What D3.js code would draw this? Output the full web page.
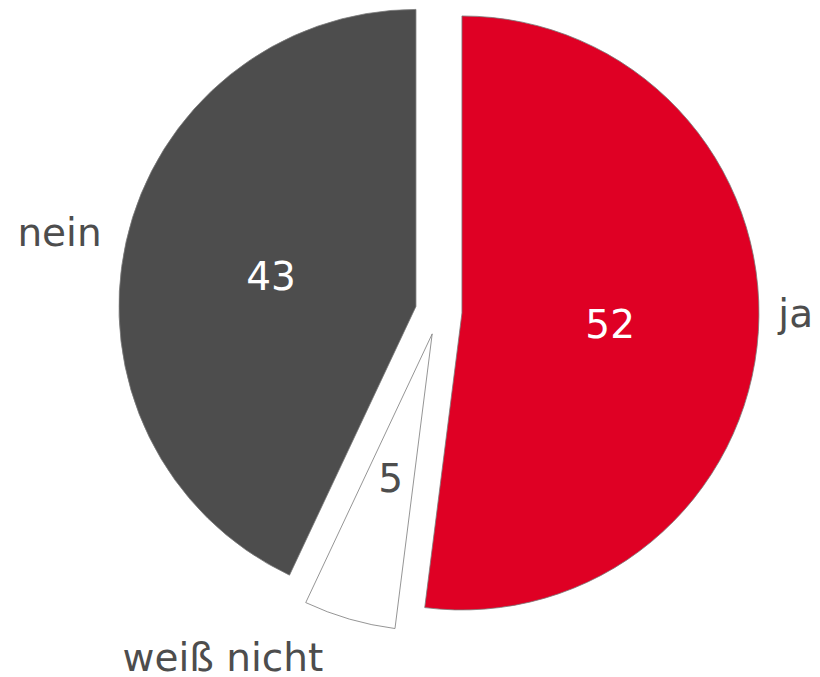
<!DOCTYPE html>
<html>
<head>
<meta charset="utf-8">
<script src="https://cdn.jsdelivr.net/npm/d3@7"></script>
<style>
  body { margin: 0; background: #fff; }
  text { font-family: "DejaVu Sans", Verdana, sans-serif; }
</style>
</head>
<body>
<div id="chart"></div>
<script>
// data
const categories = ["ja", "weiß nicht", "nein"];
const values = [52, 5, 43];
const sliceColors = ["#df0024", "#ffffff", "#4d4d4d"];
const valueColors = ["#ffffff", "#4d4d4d", "#ffffff"];

const width = 820, height = 677;
const cx = 438.7, cy = 311.5;
const radius = 297;
const explode = 23.3;
const labelGap = 22;
const fontSize = 39;
// small nudges for the outer labels (like the original's manual placement)
const labelNudge = { "ja": [-2, -19], "weiß nicht": [-20, 17], "nein": [-3, -4] };

const svg = d3.select("#chart")
  .append("svg")
  .attr("width", width)
  .attr("height", height)
  .append("g")
  .attr("transform", "translate(" + cx + "," + cy + ")");

const table = categories.map((c, i) => ({ name: c, value: values[i], fill: sliceColors[i], txt: valueColors[i] }));

const pie = d3.pie().sort(null).value(d => d.value).startAngle(0).endAngle(2 * Math.PI);
const arc = d3.arc().innerRadius(0).outerRadius(radius);

const arcs = pie(table);

// unit vector through the middle of a slice
function dir(d) {
  const a = (d.startAngle + d.endAngle) / 2;
  return [Math.sin(a), -Math.cos(a)];
}

const slice = svg.selectAll("g.slice")
  .data(arcs)
  .enter()
  .append("g")
  .attr("class", "slice")
  .attr("transform", function (d) {
    const v = dir(d);
    return "translate(" + (v[0] * explode) + "," + (v[1] * explode) + ")";
  });

slice.append("path")
  .attr("d", arc)
  .style("fill", d => d.data.fill)
  .style("stroke", "#7a7a7a")
  .style("stroke-width", 0.8);

// values inside
slice.append("text")
  .attr("x", d => arc.centroid(d)[0])
  .attr("y", d => arc.centroid(d)[1] + 2)
  .attr("text-anchor", "middle")
  .attr("dominant-baseline", "central")
  .attr("font-size", fontSize)
  .attr("fill", d => d.data.txt)
  .text(d => d.data.value);

// category labels outside
slice.append("text")
  .attr("x", function (d) {
    return dir(d)[0] * (radius + labelGap) + labelNudge[d.data.name][0];
  })
  .attr("y", function (d) {
    return dir(d)[1] * (radius + labelGap) + labelNudge[d.data.name][1];
  })
  .attr("text-anchor", d => dir(d)[0] >= 0 ? "start" : "end")
  .attr("dominant-baseline", "central")
  .attr("font-size", fontSize)
  .attr("fill", "#4d4d4d")
  .text(d => d.data.name);
</script>
</body>
</html>
